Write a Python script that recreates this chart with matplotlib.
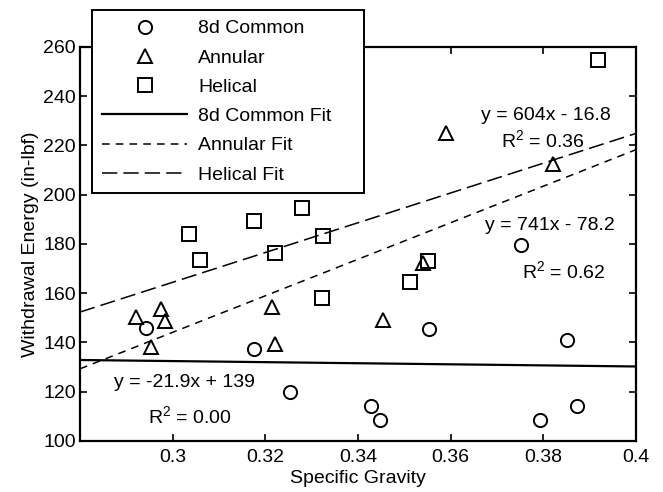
import matplotlib
matplotlib.use('Agg')
import matplotlib.pyplot as plt
import numpy as np

plt.rcParams['font.family'] = ['Liberation Sans', 'DejaVu Sans']
plt.rcParams['font.size'] = 14
plt.rcParams['mathtext.fontset'] = 'custom'
plt.rcParams['mathtext.rm'] = 'Liberation Sans'

# data
common_sg = [0.2943, 0.3175, 0.3254, 0.3429, 0.3447, 0.3554, 0.3752, 0.3852, 0.3794, 0.3872]
common_we = [145.7, 137.3, 119.7, 114.3, 108.4, 145.3, 179.5, 141.0, 108.4, 114.3]

annular_sg = [0.2920, 0.2974, 0.2983, 0.2953, 0.3214, 0.3222, 0.3454, 0.3540, 0.3591, 0.3822]
annular_we = [150.2, 153.4, 148.8, 138.2, 154.5, 139.3, 149.3, 172.3, 224.8, 212.6]

helical_sg = [0.3036, 0.3058, 0.3176, 0.3222, 0.3279, 0.3323, 0.3325, 0.3512, 0.3552, 0.3919]
helical_we = [184.2, 173.4, 189.2, 176.4, 194.6, 158.1, 183.1, 164.4, 173.1, 254.5]

# fit coefficients (slope, intercept) as printed on the chart
common_fit = (-21.9, 139)
annular_fit = (741, -78.2)
helical_fit = (604, -16.8)

xlims = (0.28, 0.4)
ylims = (100, 260)

fig = plt.figure(figsize=(6.63, 4.92), dpi=100)
ax = fig.add_axes([0.1207, 0.1037, 0.8383, 0.8013])

mk = dict(linestyle='None', markerfacecolor='none', markeredgecolor='black',
          markersize=9.5, markeredgewidth=1.4, zorder=3)
h1, = ax.plot(common_sg, common_we, marker='o', label='8d Common', **mk)
h2, = ax.plot(annular_sg, annular_we, marker='^', label='Annular', **mk)
h3, = ax.plot(helical_sg, helical_we, marker='s', label='Helical', **mk)

xx = np.array(xlims)
h4, = ax.plot(xx, common_fit[0] * xx + common_fit[1], color='black',
              linewidth=1.6, label='8d Common Fit')
h5, = ax.plot(xx, annular_fit[0] * xx + annular_fit[1], color='black',
              linewidth=1.1, linestyle=(0, (5, 4)), label='Annular Fit')
h6, = ax.plot(xx, helical_fit[0] * xx + helical_fit[1], color='black',
              linewidth=1.1, linestyle=(0, (10, 4)), label='Helical Fit')

ax.set_xlim(xlims)
ax.set_ylim(ylims)
ax.set_xticks([0.3, 0.32, 0.34, 0.36, 0.38, 0.4])
ax.set_xticklabels(['0.3', '0.32', '0.34', '0.36', '0.38', '0.4'])
ax.set_yticks(np.arange(100, 261, 20))
ax.tick_params(direction='in', top=True, right=True, length=5, width=1.2)
ax.tick_params(axis='x', pad=6)
ax.tick_params(axis='y', pad=3)
for s in ax.spines.values():
    s.set_linewidth(1.6)
ax.set_xlabel('Specific Gravity', labelpad=3)
ax.set_ylabel('Withdrawal Energy (in-lbf)', labelpad=3)

# equation annotations
ax.text(0.3665, 232.2, 'y = 604x - 16.8', ha='left', va='center')
ax.text(0.3800, 222.0, r'R$^2$ = 0.36', ha='center', va='center')
ax.text(0.3675, 187.6, 'y = 741x - 78.2', ha='left', va='center')
ax.text(0.3844, 168.5, r'R$^2$ = 0.62', ha='center', va='center')
ax.text(0.2873, 123.9, 'y = -21.9x + 139', ha='left', va='center')
ax.text(0.2946, 109.7, r'R$^2$ = 0.00', ha='left', va='center')

# legend box sits partly above the axes, as in the original
leg_x0, leg_w = 92 / 663, 272 / 663
leg = ax.legend(handles=[h1, h2, h3, h4, h5, h6], loc='upper left',
                bbox_to_anchor=(leg_x0, 0.3, leg_w, 0.6797), bbox_transform=fig.transFigure,
                mode='expand', borderaxespad=0, fancybox=False, edgecolor='black',
                framealpha=1, handlelength=4.4, handletextpad=0.55, labelspacing=0.6,
                borderpad=0.5, fontsize=14)
leg.get_frame().set_linewidth(1.4)
leg.set_zorder(10)

plt.savefig('out.png', dpi=100)
